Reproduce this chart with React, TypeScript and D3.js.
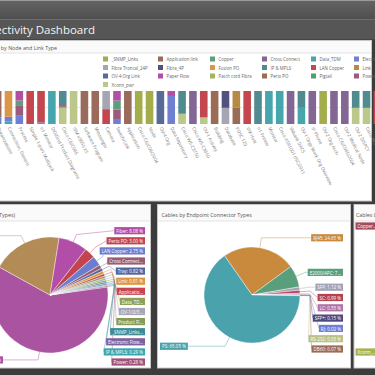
import React, { useEffect, useRef } from "react";
import * as d3 from "d3";

const FONT = "'Open Sans', 'Noto Sans', sans-serif";

// ---------- Top chart: categories (nodes) ----------
const barCategories = [
  "Organizations", "Connection, Generic", "Process", "Simple 1-port Multijack", "n1 Monitor", "DiGiGrid Product Diagrams",
  "Cisco C6/C065", "IBM x3650 X5", "Software Program", "Messenger", "Camera", "Switch/Link",
  "Application", "Cisco C6/C06/2004", "Node", "OV-4 Org", "Data Repository", "Cisco WS-C3750",
  "Cisco WS-C3650", "OV-1 Activity", "Building", "Database", "POSC 120", "VM Host",
  "n1 Printer", "Monitor", "Cisco ASR1001 (ISC)2011", "Vlibank DACS", "OV-1 Orgs Work Org Overview", "IP Phone",
  "OV-2 Org Arch", "Cisco C6/C06S/2004", "OV-2 Medical Node", "OV-2 DISPCY", "Cisco WS-C6509", "Architecture",
];

// legend (link types), alphabetical as in the reference
const legendNames = [
  "_SNMP_Links", "Application link", "Copper", "Cross Connect", "Data_TDM", "Electronic Flow",
  "Fibra Troncal_24P", "Fibra_4P", "Fusion PO", "IP & MPLS", "LAN Copper", "Link",
  "OV-4 Org Link", "Paper Flow", "Patch cord Fibra", "Perio PO", "Pigtail", "Power",
  "Xconn_pwr",
];
const legendColors = [
  "#a3ad4c", "#9a6b5b", "#5d9f7c", "#846694", "#47a5ae", "#6f7fd2",
  "#a5a5b3", "#51507f", "#dc9647", "#4f8b91", "#c4474f", "#b68a45",
  "#576a98", "#b24fa3", "#a6b25c", "#9a6b55", "#4f9f70", "#9c5a7c",
  "#bcc78b",
];

// stacking order, bottom to top
const stackOrder = [
  "Xconn_pwr", "Data_TDM", "Electronic Flow", "Power", "Copper", "Paper Flow", "Fusion PO",
  "LAN Copper", "IP & MPLS", "Fibra Troncal_24P", "Fibra_4P", "Perio PO", "Link",
  "Application link", "_SNMP_Links", "OV-4 Org Link", "Cross Connect", "Pigtail", "Patch cord Fibra",
];

// share (%) of each link type per node
const snmpLinks = [0,0,0,0,0,0, 0,0,0,0,0,0, 0,100,100,0,0,0, 0,0,0,0,0,0, 0,0,0,0,0,0, 100,0,0,0,0,0];
const applicationLink = [80,0,0,0,0,0, 0,0,100,100,0,0, 100,0,0,0,0,0, 0,0,0,0,0,0, 0,0,0,0,0,0, 0,0,0,0,0,0];
const copper = [0,0,14,0,0,0, 0,0,0,0,0,27, 0,0,0,0,0,0, 0,0,0,0,0,0, 0,0,0,0,0,0, 0,0,0,0,0,0];
const crossConnect = [0,0,0,0,0,0, 0,0,0,0,0,0, 0,0,0,0,0,0, 100,0,0,0,0,0, 0,0,0,100,0,100, 0,100,100,0,0,0];
const dataTdm = [0,8,0,0,0,100, 0,0,0,0,0,0, 0,0,0,0,0,0, 0,0,0,0,0,0, 0,100,100,0,49,0, 0,0,0,0,0,0];
const electronicFlow = [20,14,27,0,5,0, 0,0,0,0,0,15, 0,0,0,0,85,0, 0,0,0,0,0,0, 0,0,0,0,0,0, 0,0,0,0,0,0];
const fibraTroncal24p = [0,0,0,0,0,0, 0,0,0,0,55,0, 0,0,0,0,0,0, 0,0,0,49,0,0, 0,0,0,0,0,0, 0,0,0,0,0,0];
const fibra4p = [0,0,0,0,0,0, 0,0,0,0,0,0, 0,0,0,0,0,0, 0,0,0,51,0,0, 0,0,0,0,0,0, 0,0,0,0,0,0];
const fusionPo = [0,78,0,0,0,0, 0,0,0,0,0,0, 0,0,0,0,0,0, 0,0,0,0,0,0, 0,0,0,0,0,0, 0,0,0,0,0,0];
const ipMpls = [0,0,0,0,0,0, 46,0,0,0,0,0, 0,0,0,0,0,69, 0,0,0,0,0,0, 100,0,0,0,51,0, 0,0,0,51,51,0];
const lanCopper = [0,0,0,100,95,0, 4,0,0,0,45,0, 0,0,0,0,0,0, 0,80,0,0,0,100, 0,0,0,0,0,0, 0,0,0,0,0,100];
const link = [0,0,0,0,0,0, 0,0,0,0,0,0, 0,0,0,0,0,0, 0,0,0,0,51,0, 0,0,0,0,0,0, 0,0,0,0,0,0];
const ov4OrgLink = [0,0,0,0,0,0, 0,0,0,0,0,0, 0,0,0,100,0,0, 0,0,0,0,0,0, 0,0,0,0,0,0, 0,0,0,0,0,0];
const paperFlow = [0,0,29,0,0,0, 0,0,0,0,0,29, 0,0,0,0,15,0, 0,0,0,0,0,0, 0,0,0,0,0,0, 0,0,0,0,0,0];
const patchCordFibra = [0,0,0,0,0,0, 0,0,0,0,0,0, 0,0,0,0,0,0, 0,0,0,0,0,0, 0,0,0,0,0,0, 0,0,0,0,0,0];
const perioPo = [0,0,0,0,0,0, 0,0,0,0,0,0, 0,0,0,0,0,0, 0,0,100,0,49,0, 0,0,0,0,0,0, 0,0,0,0,0,0];
const pigtail = [0,0,0,0,0,0, 0,0,0,0,0,0, 0,0,0,0,0,0, 0,0,0,0,0,0, 0,0,0,0,0,0, 0,0,0,0,0,0];
const power = [0,0,30,0,0,0, 0,0,0,0,0,29, 0,0,0,0,0,0, 0,0,0,0,0,0, 0,0,0,0,0,0, 0,0,0,0,0,0];
const xconnPwr = [0,0,0,0,0,0, 50,100,0,0,0,0, 0,0,0,0,0,31, 0,20,0,0,0,0, 0,0,0,0,0,0, 0,0,0,49,49,0];

// ---------- Bottom-left pie ----------
const leftPieValues = [60.24, 19.5, 8.08, 3.0, 2.75, 1.05, 0.82, 0.81, 0.66, 0.62, 0.55, 0.5, 0.45, 0.4, 0.29, 0.28];
const leftPieLabels = [
  "Patch cord Fibra: 60.24 %", "Copper: 19.50 %", "Fiber: 8.08 %", "Perio PO: 3.00 %", "LAN Copper: 2.75 %",
  "Cross Connect...", "Tray: 0.82 %", "Link: 0.81 %", "Applicatio...", "Data_TD...", "OV-1/2/3...",
  "Product Fl...", "_SNMP_Links...", "Electronic Flow...", "IP & MPLS: 0.29 %", "Power: 0.28 %",
];
const leftPieColors = [
  "#aa54a1", "#b38b56", "#b24ea7", "#c3444f", "#6c7dcf", "#9a5b73", "#5467a0", "#dd963f",
  "#c64551", "#8da256", "#a6a6b8", "#889b56", "#3f8b94", "#7f63a0", "#3aa7b0", "#a05279",
];

// ---------- Bottom-middle pie ----------
const midPieValues = [24.65, 7.37, 1.12, 0.99, 0.55, 0.15, 0.02, 0.03, 0.07, 65.05];
const midPieLabels = [
  "RJ45: 24.65 %", "E2000/APC: 7...", "SFP: 1.12 %", "SC: 0.99 %", "LC: 0.55 %",
  "SFP+: 0.15 %", "RJ: 0.02 %", "RS-232: 0.03 %", "DB60: 0.07 %", "PS: 65.05 %",
];
const midPieColors = [
  "#c98a3e", "#5a9f7b", "#a3a3b6", "#b5434f", "#b074a8",
  "#4e4a80", "#6f7fd6", "#b9c185", "#9b6b59", "#4aa3ac",
];

// ---------- Bottom-right panel (visible labels only) ----------
const rightPanelLabels = ["Copper...", "Xconn_..."];
const rightPanelColors = ["#a84a5c", "#a7b24f"];

const seriesValues: Record<string, number[]> = {
  "_SNMP_Links": snmpLinks,
  "Application link": applicationLink,
  "Copper": copper,
  "Cross Connect": crossConnect,
  "Data_TDM": dataTdm,
  "Electronic Flow": electronicFlow,
  "Fibra Troncal_24P": fibraTroncal24p,
  "Fibra_4P": fibra4p,
  "Fusion PO": fusionPo,
  "IP & MPLS": ipMpls,
  "LAN Copper": lanCopper,
  "Link": link,
  "OV-4 Org Link": ov4OrgLink,
  "Paper Flow": paperFlow,
  "Patch cord Fibra": patchCordFibra,
  "Perio PO": perioPo,
  "Pigtail": pigtail,
  "Power": power,
  "Xconn_pwr": xconnPwr,
};

type PieOpts = {
  cx: number; cy: number; r: number;
  values: number[]; colors: string[]; labels: string[];
  startDeg: number; len1: number; gap: number; bottom: number;
  rightEdge: number; leftEdge: number; leftAnchor: "start" | "edgeEnd";
};

function drawPie(root: d3.Selection<SVGGElement, unknown, null, undefined>, o: PieOpts) {
  const g = root.append("g");
  const a0 = (o.startDeg * Math.PI) / 180;
  const arcs = d3.pie<number>().sort(null).value((d) => d).startAngle(a0).endAngle(a0 + 2 * Math.PI)(o.values);
  const arcGen = d3.arc<d3.PieArcDatum<number>>().innerRadius(0).outerRadius(o.r);
  g.append("g")
    .attr("transform", `translate(${o.cx},${o.cy})`)
    .selectAll("path")
    .data(arcs)
    .join("path")
    .attr("d", arcGen)
    .attr("fill", (_d, i) => o.colors[i])
    .attr("stroke", "#fff")
    .attr("stroke-width", 0.4);

  const items = arcs.map((a, i) => {
    const m = (a.startAngle + a.endAngle) / 2;
    const sx = Math.sin(m);
    const sy = -Math.cos(m);
    return {
      i,
      right: sx >= 0,
      p0: [o.cx + sx * o.r, o.cy + sy * o.r],
      p1: [o.cx + sx * (o.r + o.len1), o.cy + sy * (o.r + o.len1)],
      y: 0,
      w: 0,
    };
  });
  for (const side of [true, false]) {
    const list = items.filter((d) => d.right === side).sort((a, b) => a.p1[1] - b.p1[1]);
    let prev = -Infinity;
    list.forEach((d) => {
      d.y = Math.max(d.p1[1], prev + o.gap);
      prev = d.y;
    });
    let next = o.bottom + o.gap;
    for (let k = list.length - 1; k >= 0; k--) {
      list[k].y = Math.min(list[k].y, next - o.gap);
      next = list[k].y;
    }
  }
  const lineG = g.append("g");
  const labG = g.append("g");
  const texts = items.map((d) => {
    const lg = labG.append("g");
    const t = lg
      .append("text")
      .text(o.labels[d.i])
      .attr("font-size", 4.5)
      .attr("fill", "#fff")
      .attr("dominant-baseline", "central");
    d.w = (t.node() as SVGTextElement).getComputedTextLength() + 4;
    return { lg, t };
  });
  const leftMaxW = d3.max(items.filter((d) => !d.right), (d) => d.w) ?? 0;
  items.forEach((d, k) => {
    const { lg, t } = texts[k];
    let bx: number;
    if (d.right) bx = o.rightEdge - d.w;
    else bx = o.leftAnchor === "start" ? o.leftEdge : o.leftEdge - leftMaxW;
    lg.insert("rect", "text")
      .attr("x", bx)
      .attr("y", d.y - 3.6)
      .attr("width", d.w)
      .attr("height", 7.2)
      .attr("fill", o.colors[d.i]);
    t.attr("x", bx + 2).attr("y", d.y + 0.2);
    const ex = d.right ? bx : bx + d.w;
    lineG
      .append("polyline")
      .attr("points", `${d.p0[0]},${d.p0[1]} ${d.p1[0]},${d.p1[1]} ${ex},${d.y}`)
      .attr("fill", "none")
      .attr("stroke", o.colors[d.i])
      .attr("stroke-opacity", 0.75)
      .attr("stroke-width", 0.6);
  });
}

export default function App() {
  const ref = useRef<SVGSVGElement>(null);

  useEffect(() => {
    const svg = d3.select(ref.current!);
    svg.selectAll("*").remove();
    const root = svg.append("g").attr("font-family", FONT);

    // page background
    root.append("rect").attr("width", 375).attr("height", 375).attr("fill", "#3c3c3c");

    // top bar
    const defs = svg.append("defs");
    const grad = defs.append("linearGradient").attr("id", "topGrad").attr("x1", 0).attr("y1", 0).attr("x2", 0).attr("y2", 1);
    grad.append("stop").attr("offset", "0%").attr("stop-color", "#646464");
    grad.append("stop").attr("offset", "100%").attr("stop-color", "#4f4f4f");
    root.append("rect").attr("x", 0).attr("y", 0).attr("width", 375).attr("height", 19).attr("fill", "url(#topGrad)");
    root.append("line").attr("x1", 0).attr("x2", 375).attr("y1", 0.5).attr("y2", 0.5).attr("stroke", "#9a9a9a");
    root.append("rect").attr("x", 0).attr("y", 19).attr("width", 375).attr("height", 21).attr("fill", "#565656");
    root.append("line").attr("x1", 0).attr("x2", 375).attr("y1", 19.5).attr("y2", 19.5).attr("stroke", "#6e6e6e");
    root.append("line").attr("x1", 0).attr("x2", 375).attr("y1", 39.5).attr("y2", 39.5).attr("stroke", "#444");
    root.append("text")
      .text("Connectivity Dashboard")
      .attr("x", 95).attr("y", 34)
      .attr("text-anchor", "end")
      .attr("font-size", 11.5)
      .attr("fill", "#f4f4f4");

    // ---------- top panel ----------
    root.append("rect").attr("x", -1).attr("y", 40.5).attr("width", 372.5).attr("height", 160.5)
      .attr("fill", "#fff").attr("stroke", "#c8c8c8");
    root.append("rect").attr("x", 0).attr("y", 41).attr("width", 371).attr("height", 12).attr("fill", "#fafafa");
    root.append("line").attr("x1", 0).attr("x2", 371).attr("y1", 53).attr("y2", 53).attr("stroke", "#e4e4e4");
    root.append("text").text("Cables by Node and Link Type")
      .attr("x", 57).attr("y", 49.5).attr("text-anchor", "end")
      .attr("font-size", 5.3).attr("fill", "#555");

    // legend
    const colX = [103, 158, 210, 262, 311, 354];
    const legend = root.append("g");
    legendNames.forEach((name, i) => {
      const c = i % 6;
      const r = Math.floor(i / 6);
      const lx = colX[c];
      const ly = 59 + r * 8.5;
      legend.append("rect").attr("x", lx).attr("y", ly - 2.5).attr("width", 5).attr("height", 5).attr("fill", legendColors[i]);
      legend.append("text").text(name).attr("x", lx + 8.5).attr("y", ly + 0.2)
        .attr("dominant-baseline", "central").attr("font-size", 4.4).attr("fill", "#666");
    });
    const colorOf = (name: string) => legendColors[legendNames.indexOf(name)];

    // stacked 100% bars
    const idx = barCategories.map((_c, i) => String(i));
    const x = d3.scaleBand<string>().domain(idx).range([-7.8, 382.8]).paddingInner(0.3).paddingOuter(0.15);
    const y = d3.scaleLinear().domain([0, 100]).range([124, 91]);
    const table = barCategories.map((_c, i) => {
      const row: Record<string, number> = {};
      stackOrder.forEach((k) => (row[k] = seriesValues[k][i]));
      return row;
    });
    const stacked = d3.stack<Record<string, number>>().keys(stackOrder)(table);

    const bars = root.append("g");
    bars.append("line").attr("x1", 0).attr("x2", 371).attr("y1", y(50)).attr("y2", y(50)).attr("stroke", "#e6e6e6").attr("stroke-width", 0.8);
    stacked.forEach((s) => {
      bars.append("g")
        .attr("fill", colorOf(s.key))
        .selectAll("rect")
        .data(s.map((d, i) => ({ d, i })).filter((e) => e.d[1] - e.d[0] > 0))
        .join("rect")
        .attr("x", (e) => x(String(e.i))!)
        .attr("width", x.bandwidth())
        .attr("y", (e) => y(e.d[1]))
        .attr("height", (e) => y(e.d[0]) - y(e.d[1]));
    });
    const xl = root.append("g");
    barCategories.forEach((c, i) => {
      const cx = x(String(i))! + x.bandwidth() / 2;
      xl.append("text").text(c)
        .attr("transform", `translate(${cx - 1},${128}) rotate(63)`)
        .attr("font-size", 4.6)
        .attr("fill", "#7a7a7a");
    });

    // ---------- bottom panels ----------
    const panels = [
      { x: -1, w: 151, title: "Cables by Link Types (Sub-Types)", tx: 15, anchor: "end" },
      { x: 157, w: 193, title: "Cables by Endpoint Connector Types", tx: 161.5, anchor: "start" },
      { x: 353.5, w: 40, title: "Cables by Media Type", tx: 356, anchor: "start" },
    ];
    panels.forEach((p) => {
      root.append("rect").attr("x", p.x + 0.5).attr("y", 204.5).attr("width", p.w).attr("height", 163.5)
        .attr("fill", "#fff").attr("stroke", "#c8c8c8");
      root.append("rect").attr("x", p.x + 1).attr("y", 205).attr("width", p.w - 1).attr("height", 16).attr("fill", "#fafafa");
      root.append("line").attr("x1", p.x + 1).attr("x2", p.x + p.w).attr("y1", 221).attr("y2", 221).attr("stroke", "#e4e4e4");
      root.append("text").text(p.title).attr("x", p.tx).attr("y", 217)
        .attr("text-anchor", p.anchor).attr("font-size", 5.3).attr("fill", "#555");
    });

    drawPie(root, {
      cx: 50, cy: 295, r: 58,
      values: leftPieValues, colors: leftPieColors, labels: leftPieLabels,
      startDeg: 82, len1: 8, gap: 10.1, bottom: 362,
      rightEdge: 145, leftEdge: 3, leftAnchor: "edgeEnd",
    });
    drawPie(root, {
      cx: 252, cy: 295, r: 48,
      values: midPieValues, colors: midPieColors, labels: midPieLabels,
      startDeg: -35, len1: 10, gap: 10.3, bottom: 349,
      rightEdge: 343, leftEdge: 160, leftAnchor: "start",
    });

    // right panel label boxes
    const rys = [226, 352];
    rightPanelLabels.forEach((lab, i) => {
      root.append("rect").attr("x", 355.5).attr("y", rys[i] - 3.6).attr("width", 30).attr("height", 7.2).attr("fill", rightPanelColors[i]);
      root.append("text").text(lab).attr("x", 357.5).attr("y", rys[i] + 0.2)
        .attr("dominant-baseline", "central").attr("font-size", 4.5).attr("fill", "#fff");
    });
  }, []);

  return (
    <svg
      ref={ref}
      width={375}
      height={375}
      style={{ position: "absolute", left: 0, top: 0, display: "block" }}
    />
  );
}
